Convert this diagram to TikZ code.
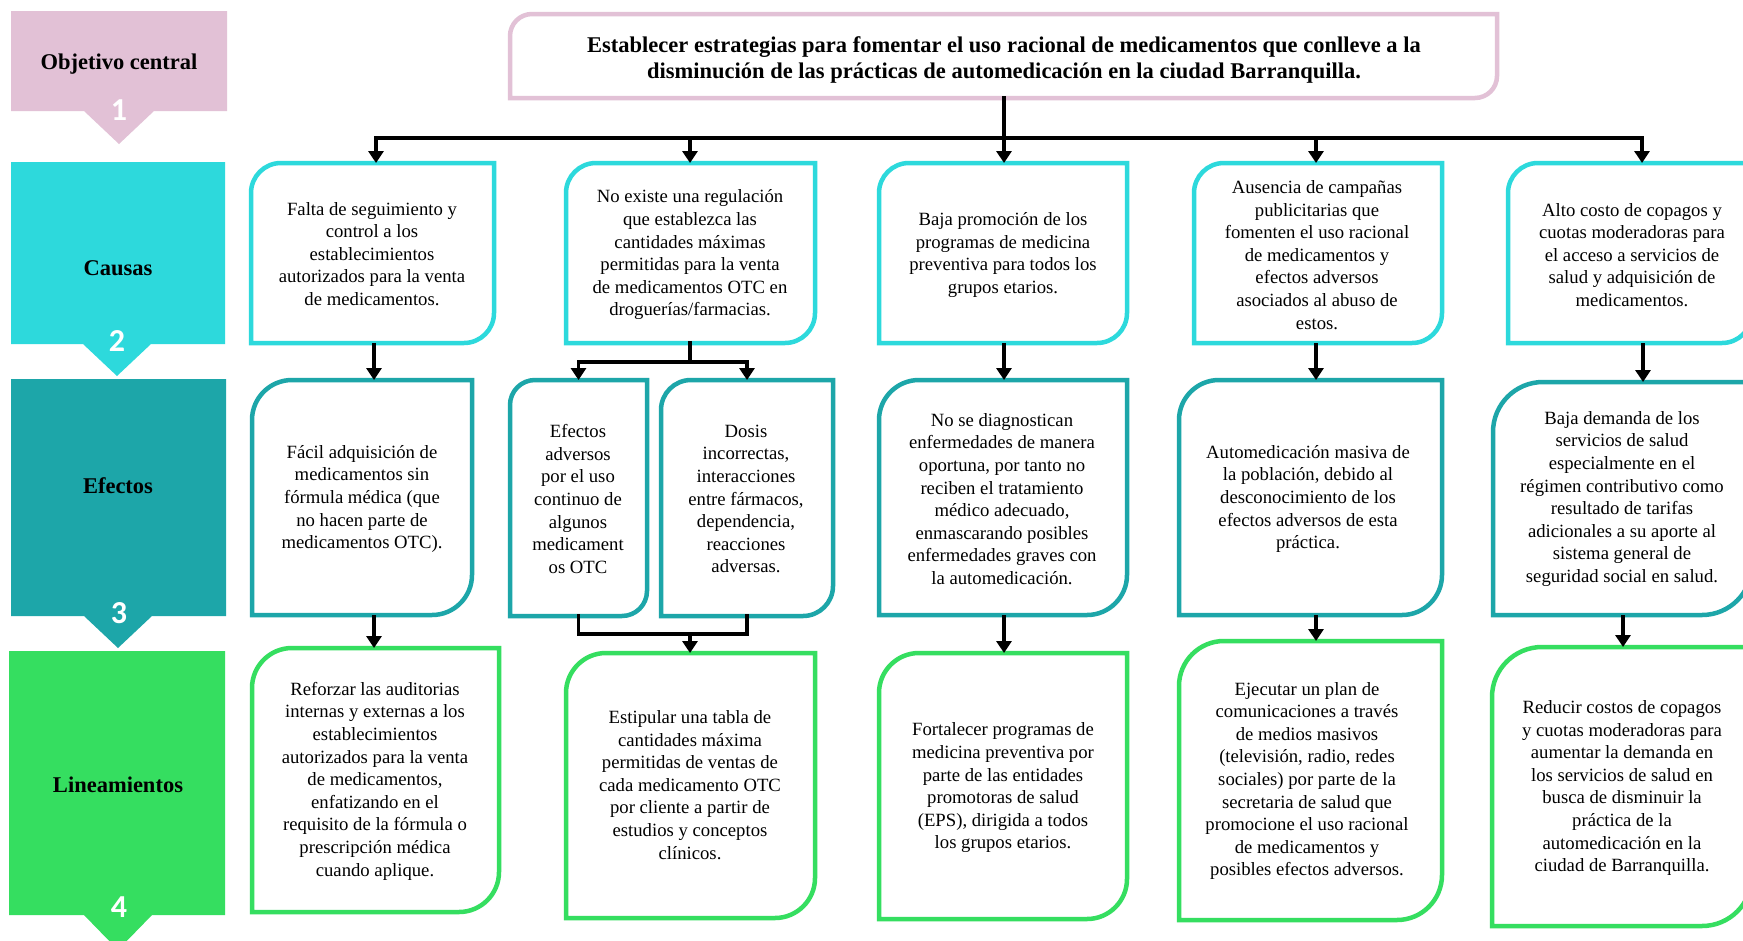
\documentclass[tikz,border=0pt]{standalone}
\usepackage{fontspec}
\setmainfont{Liberation Serif}
\newfontfamily\numfont{Carlito}
\usetikzlibrary{arrows.meta}
\definecolor{cpink}{HTML}{E2C1D6}
\definecolor{ccyan}{HTML}{2DD9DC}
\definecolor{cteal}{HTML}{1DA6A9}
\definecolor{cgreen}{HTML}{35DE60}
\tikzset{
  boxline/.style={line width=4.5pt, fill=white, line join=miter},
  txt/.style={align=center, font=\fontsize{18.7}{22.6}\selectfont, inner sep=0pt},
  ttl/.style={align=center, font=\fontsize{22.5}{26.7}\selectfont\bfseries, inner sep=0pt},
  lbl/.style={font=\fontsize{22.5}{26}\selectfont\bfseries, inner sep=0pt},
  num/.style={font=\fontsize{32}{34}\selectfont\numfont\bfseries, text=white, inner sep=0pt},
  conn/.style={line width=3.5pt, line cap=rect},
  arr/.style={line width=3.5pt, -{Triangle[width=15pt,length=12pt]}},
}
% #1 name, #2 x1, #3 y1, #4 x2, #5 y2, #6 colour, #7 radius
\newcommand\dbox[7]{%
  \draw[boxline, draw=#6] (#2,#5) -- (#2,#3+#7)
    .. controls (#2,#3+0.448*#7) and (#2+0.448*#7,#3) .. (#2+#7,#3)
    -- (#4,#3) -- (#4,#5-#7)
    .. controls (#4,#5-0.448*#7) and (#4-0.448*#7,#5) .. (#4-#7,#5) -- cycle;
  \node[inner sep=0pt, outer sep=0pt, minimum width={(#4-#2)*1pt}, minimum height={(#5-#3)*1pt}] (#1) at ({(#2+#4)/2},{(#3+#5)/2}) {};%
}
% #1 x1, #2 y1, #3 x2, #4 y2, #5 base left, #6 base right, #7 apex x, #8 apex y, #9 colour
\newcommand\lblshape[9]{%
  \fill[#9] (#1,#2) -- (#3,#2) -- (#3,#4) -- (#6,#4) -- (#7,#8) -- (#5,#4) -- (#1,#4) -- cycle;%
}
\begin{document}
\begin{tikzpicture}[x=1pt, y=-1pt]
\useasboundingbox (0,0) rectangle (1743,940);
\fill[white] (0,0) rectangle (1743,940);

% left labels
\lblshape{11}{11}{227}{111}{84}{154}{119}{144}{cpink}
\lblshape{11}{162}{225}{344}{83}{151}{117}{376}{ccyan}
\lblshape{11}{379}{226}{616}{84}{152}{118}{648}{cteal}
\lblshape{9}{651}{225}{915}{84}{152}{118}{950}{cgreen}
\node[lbl] (lab1) at (119,64) {Objetivo central};
\node[lbl] (lab2) at (118,268) {Causas};
\node[lbl] (lab3) at (118,486) {Efectos};
\node[lbl] (lab4) at (118,785) {Lineamientos};
\node[num] (n1) at (119,110) {1};
\node[num] (n2) at (117,341) {2};
\node[num] (n3) at (119,613) {3};
\node[num] (n4) at (119,907) {4};

% boxes
\dbox{top}{510}{14}{1497}{98}{cpink}{22}
\dbox{c1}{251}{163}{494}{343}{ccyan}{30}
\dbox{c2}{566}{163}{815}{343}{ccyan}{30}
\dbox{c3}{879}{163}{1127}{343}{ccyan}{30}
\dbox{c4}{1194}{163}{1442}{343}{ccyan}{30}
\dbox{c5}{1508}{163}{1752}{343}{ccyan}{30}
\dbox{e1}{252}{380}{472}{615}{cteal}{40}
\dbox{e2a}{510}{380}{647}{616}{cteal}{25}
\dbox{e2b}{661}{380}{833}{616}{cteal}{30}
\dbox{e3}{879}{380}{1127}{615}{cteal}{40}
\dbox{e4}{1179}{380}{1442}{615}{cteal}{40}
\dbox{e5}{1493}{382}{1752}{615}{cteal}{50}
\dbox{l1}{252}{648}{499}{912}{cgreen}{40}
\dbox{l2}{566}{653}{815}{918}{cgreen}{40}
\dbox{l3}{879}{653}{1127}{919}{cgreen}{40}
\dbox{l4}{1179}{641}{1442}{920}{cgreen}{45}
\dbox{l5}{1492}{647}{1752}{926}{cgreen}{50}

% texts
\node[ttl] (topt) at (1004,60) {Establecer estrategias para fomentar el uso racional de medicamentos que conlleve a la\\disminución de las prácticas de automedicación en la ciudad Barranquilla.};

\node[txt] (c1t) at (372,254) {Falta de seguimiento y\\control a los\\establecimientos\\autorizados para la venta\\de medicamentos.};
\node[txt] (c2t) at (690,255) {No existe una regulación\\que establezca las\\cantidades máximas\\permitidas para la venta\\de medicamentos OTC en\\droguerías/farmacias.};
\node[txt] (c3t) at (1003,255) {Baja promoción de los\\programas de medicina\\preventiva para todos los\\grupos etarios.};
\node[txt] (c4t) at (1317,255) {Ausencia de campañas\\publicitarias que\\fomenten el uso racional\\de medicamentos y\\efectos adversos\\asociados al abuso de\\estos.};
\node[txt] (c5t) at (1632,255) {Alto costo de copagos y\\cuotas moderadoras para\\el acceso a servicios de\\salud y adquisición de\\medicamentos.};

\node[txt] (e1t) at (362,499) {Fácil adquisición de\\medicamentos sin\\fórmula médica (que\\no hacen parte de\\medicamentos OTC).};
\node[txt] (e2at) at (578,499) {Efectos\\adversos\\por el uso\\continuo de\\algunos\\medicament\\os OTC};
\node[txt] (e2bt) at (746,499) {Dosis\\incorrectas,\\interacciones\\entre fármacos,\\dependencia,\\reacciones\\adversas.};
\node[txt] (e3t) at (1002,499) {No se diagnostican\\enfermedades de manera\\oportuna, por tanto no\\reciben el tratamiento\\médico adecuado,\\enmascarando posibles\\enfermedades graves con\\la automedicación.};
\node[txt] (e4t) at (1308,499) {Automedicación masiva de\\la población, debido al\\desconocimiento de los\\efectos adversos de esta\\práctica.};
\node[txt] (e5t) at (1622,499) {Baja demanda de los\\servicios de salud\\especialmente en el\\régimen contributivo como\\resultado de tarifas\\adicionales a su aporte al\\sistema general de\\seguridad social en salud.};

\node[txt] (l1t) at (375,781) {Reforzar las auditorias\\internas y externas a los\\establecimientos\\autorizados para la venta\\de medicamentos,\\enfatizando en el\\requisito de la fórmula o\\prescripción médica\\cuando aplique.};
\node[txt] (l2t) at (690,785) {Estipular una tabla de\\cantidades máxima\\permitidas de ventas de\\cada medicamento OTC\\por cliente a partir de\\estudios y conceptos\\clínicos.};
\node[txt] (l3t) at (1003,788) {Fortalecer programas de\\medicina preventiva por\\parte de las entidades\\promotoras de salud\\(EPS), dirigida a todos\\los grupos etarios.};
\node[txt] (l4t) at (1307,781) {Ejecutar un plan de\\comunicaciones a través\\de medios masivos\\(televisión, radio, redes\\sociales) por parte de la\\secretaria de salud que\\promocione el uso racional\\de medicamentos y\\posibles efectos adversos.};
\node[txt] (l5t) at (1622,788) {Reducir costos de copagos\\y cuotas moderadoras para\\aumentar la demanda en\\los servicios de salud en\\busca de disminuir la\\práctica de la\\automedicación en la\\ciudad de Barranquilla.};

% connector coordinates
\coordinate (busL) at (376,138);
\coordinate (busR) at (1642,138);
\coordinate (x1) at (374,0);
\coordinate (x2) at (690,0);
\coordinate (x3) at (1004,0);
\coordinate (x4) at (1316,0);
\coordinate (x5) at (1643,0);
\coordinate (x5b) at (1623,0);
\coordinate (s2) at (690,362);
\coordinate (m2) at (690,634);

% top distribution
\draw[conn] (top.south -| x3) -- (x3 |- busL);
\draw[conn] (busL) -- (busR);
\draw[arr] (busL) -- (busL |- c1.north);
\draw[arr] (x2 |- busL) -- (x2 |- c2.north);
\draw[arr] (x3 |- busL) -- (x3 |- c3.north);
\draw[arr] (x4 |- busL) -- (x4 |- c4.north);
\draw[arr] (busR) -- (busR |- c5.north);

% causes -> effects
\draw[arr] (x1 |- c1.south) -- (x1 |- e1.north);
\draw[conn] (x2 |- c2.south) -- (s2);
\draw[arr] (s2) -| (e2a.north);
\draw[arr] (s2) -| (e2b.north);
\draw[arr] (x3 |- c3.south) -- (x3 |- e3.north);
\draw[arr] (x4 |- c4.south) -- (x4 |- e4.north);
\draw[arr] (x5 |- c5.south) -- (x5 |- e5.north);

% effects -> lineamientos
\draw[arr] (x1 |- e1.south) -- (x1 |- l1.north);
\draw[conn] (e2a.south) |- (m2) -| (e2b.south);
\draw[arr] (m2) -- (x2 |- l2.north);
\draw[arr] (x3 |- e3.south) -- (x3 |- l3.north);
\draw[arr] (x4 |- e4.south) -- (x4 |- l4.north);
\draw[arr] (x5b |- e5.south) -- (x5b |- l5.north);
\end{tikzpicture}
\end{document}
